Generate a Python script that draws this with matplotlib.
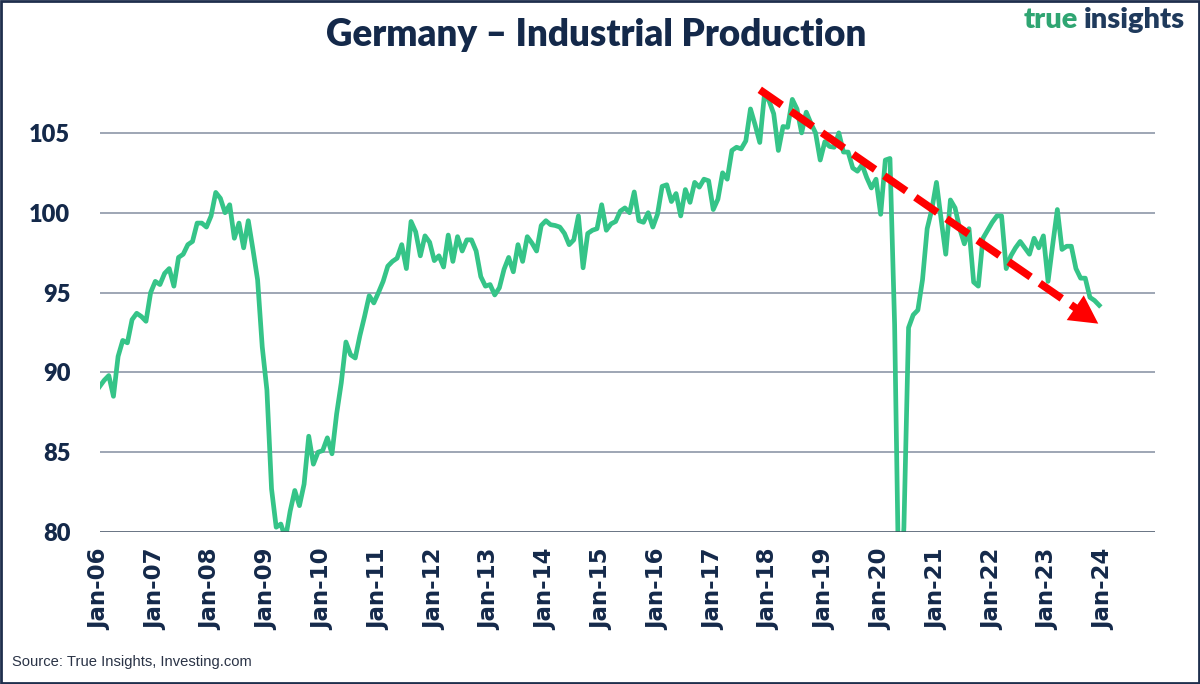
import matplotlib
matplotlib.use("Agg")
import matplotlib.pyplot as plt
import numpy as np
from matplotlib.patches import Polygon, Rectangle

# ---------------- data ----------------
year_labels = ["Jan-06", "Jan-07", "Jan-08", "Jan-09", "Jan-10", "Jan-11", "Jan-12",
               "Jan-13", "Jan-14", "Jan-15", "Jan-16", "Jan-17", "Jan-18", "Jan-19",
               "Jan-20", "Jan-21", "Jan-22", "Jan-23", "Jan-24"]

# monthly index values, Jan 2006 .. Dec 2023
production_index = [
    89.1, 89.5, 89.8, 88.5, 91.0, 92.0, 91.85, 93.3, 93.7, 93.5, 93.2, 95.0,          # 2006
    95.7, 95.5, 96.2, 96.5, 95.4, 97.2, 97.4, 98.0, 98.2, 99.35, 99.35, 99.1,        # 2007
    99.8, 101.27, 100.9, 100.0, 100.5, 98.4, 99.35, 97.8, 99.5, 97.7, 95.8, 91.6,    # 2008
    88.9, 82.7, 80.3, 80.5, 79.6, 81.3, 82.6, 81.65, 83.0, 86.0, 84.25, 85.0,        # 2009
    85.1, 85.9, 84.9, 87.4, 89.35, 91.9, 91.1, 90.9, 92.3, 93.5, 94.8, 94.35,        # 2010
    95.0, 95.7, 96.65, 96.95, 97.15, 98.0, 96.5, 99.45, 98.8, 97.3, 98.55, 98.15,    # 2011
    97.0, 97.3, 96.6, 98.6, 96.95, 98.5, 97.6, 98.3, 98.3, 97.6, 96.0, 95.4,         # 2012
    95.5, 94.85, 95.3, 96.45, 97.2, 96.3, 98.0, 96.95, 98.5, 98.1, 97.6, 99.2,       # 2013
    99.5, 99.25, 99.2, 99.1, 98.7, 98.0, 98.3, 99.8, 96.55, 98.7, 98.9, 99.0,        # 2014
    100.5, 98.9, 99.3, 99.45, 100.1, 100.3, 100.0, 101.3, 99.5, 99.4, 100.0, 99.1,   # 2015
    99.9, 101.65, 101.75, 100.7, 101.2, 99.8, 101.45, 100.65, 101.9, 101.6, 102.1, 102.0,  # 2016
    100.2, 100.85, 102.5, 102.1, 103.9, 104.1, 104.0, 104.5, 106.5, 105.5, 104.4, 107.4,  # 2017
    107.0, 106.2, 103.9, 105.4, 105.35, 107.1, 106.5, 105.0, 106.3, 105.6, 105.0, 103.3,  # 2018
    104.45, 104.15, 104.1, 105.0, 103.8, 103.8, 102.8, 102.6, 103.0, 102.2, 101.55, 102.1, # 2019
    99.9, 103.3, 103.4, 93.0, 74.5, 80.3, 92.8, 93.6, 93.9, 95.8, 99.0, 100.2,       # 2020
    101.9, 99.6, 97.4, 100.8, 100.3, 99.0, 98.05, 99.0, 95.65, 95.4, 98.4, 98.9,     # 2021
    99.4, 99.8, 99.8, 96.5, 97.3, 97.8, 98.2, 97.8, 97.4, 98.4, 97.8, 98.55,         # 2022
    95.7, 98.0, 100.2, 97.7, 97.9, 97.9, 96.5, 95.9, 95.9, 94.7, 94.5, 94.2,         # 2023
]

# trend arrow (month index, value)
trend_start = (142.0, 107.7)
trend_end = (214.8, 93.05)

y_ticks = [80, 85, 90, 95, 100, 105]

# ---------------- style ----------------
NAVY = "#14294a"
GREEN = "#35c488"
GRID = "#8e97a8"

fig = plt.figure(figsize=(12, 6.84), dpi=100)
ax = fig.add_axes([99.5 / 1200, 1 - 532 / 684, (1155 - 99.5) / 1200, (532 - 85) / 684])

x = np.arange(len(production_index))
ax.plot(x, production_index, color=GREEN, lw=3.4, solid_joinstyle="round", zorder=3)

ax.set_xlim(0, 227)
ax.set_ylim(80, 108)
ax.set_yticks(y_ticks)
ax.set_yticklabels([str(v) for v in y_ticks])
ax.set_xticks([12 * i for i in range(len(year_labels))])
ax.set_xticklabels(year_labels, rotation=90, va="top", ha="center")

for v in y_ticks[1:]:
    ax.axhline(v, color=GRID, lw=1.2, zorder=1)
ax.axhline(80, color="#3c4a5e", lw=1.8, zorder=4)

for s in ax.spines.values():
    s.set_visible(False)
ax.tick_params(axis="both", length=0)
ax.tick_params(axis="x", pad=12)
ax.tick_params(axis="y", pad=21)
for lab in ax.get_xticklabels():
    lab.set_fontfamily("DejaVu Sans")
    lab.set_fontweight("bold")
    lab.set_fontsize(16.5)
    lab.set_color(NAVY)
for lab in ax.get_yticklabels():
    lab.set_fontfamily("Lato")
    lab.set_fontweight("heavy")
    lab.set_fontsize(17)
    lab.set_color(NAVY)

# ---------------- trend arrow ----------------
fig.canvas.draw()
to_px = ax.transData
from_px = ax.transData.inverted()
p0 = np.array(to_px.transform(trend_start))
p1 = np.array(to_px.transform(trend_end))
d = p1 - p0
u = d / np.linalg.norm(d)
perp = np.array([-u[1], u[0]])
head_len, head_half = 28.0, 15.0
base = p1 - u * head_len
line_end = p1 - u * (head_len - 3)
ls_pts = from_px.transform(np.vstack([p0, line_end]))
ax.plot(ls_pts[:, 0], ls_pts[:, 1], color="#ff0000", lw=5.5,
        linestyle=(0, (3.5, 1.45)), solid_capstyle="butt", dash_capstyle="butt",
        zorder=5, clip_on=False)
tri = from_px.transform(np.vstack([p1, base + perp * head_half, base - perp * head_half]))
ax.add_patch(Polygon(tri, closed=True, color="#ff0000", lw=0, zorder=6, clip_on=False))

# ---------------- texts ----------------
fig.text(596 / 1200, 1 - 35 / 684, "Germany \u2013 Industrial Production", ha="center",
         va="center", fontsize=26.5, fontweight="heavy", family="Lato", color=NAVY)
fig.text(1078 / 1200, 1 - 20 / 684, "true", ha="right", va="center", fontsize=21,
         fontweight="heavy", family="Lato", color="#2fa572")
fig.text(1084 / 1200, 1 - 20 / 684, "insights", ha="left", va="center", fontsize=21,
         fontweight="heavy", family="Lato", color="#1f3a5c")
fig.text(12 / 1200, 1 - 662 / 684, "Source: True Insights, Investing.com", ha="left",
         va="center", fontsize=10.6, family="Liberation Sans", color="#2a3346")

fig.patches.append(Rectangle((0.001, 0.0015), 0.998, 0.997, transform=fig.transFigure,
                             fill=False, edgecolor="#1f2f4d", lw=2.0))

fig.savefig("out.png", dpi=100)
